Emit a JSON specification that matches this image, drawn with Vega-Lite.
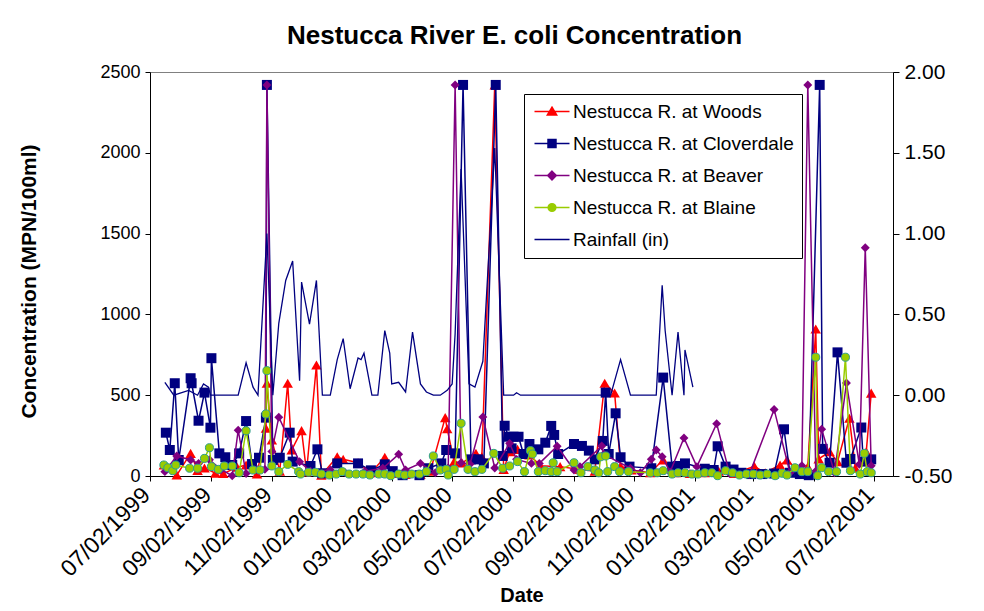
{
  "$schema": "https://vega.github.io/schema/vega-lite/v6.json",
  "width": 743,
  "height": 404,
  "autosize": {"type": "none"},
  "padding": {"left": 150, "top": 72, "right": 91, "bottom": 135},
  "background": "white",
  "config": {
    "font": "Liberation Sans",
    "view": {"stroke": "#808080", "strokeWidth": 1},
    "axis": {"grid": false, "domainColor": "black", "tickColor": "black", "labelColor": "black", "titleColor": "black", "labelFont": "Liberation Sans", "titleFont": "Liberation Sans", "domainWidth": 1, "tickWidth": 1}
  },
  "title": {"text": "Nestucca River E. coli Concentration", "fontSize": 26, "fontWeight": "bold", "font": "Liberation Sans", "color": "black", "anchor": "middle", "frame": "group", "offset": 12, "dx": -7},
  "datasets": {
    "woods": [
      {"d":"1999-07-16","v":68},{"d":"1999-07-29","v":6},{"d":"1999-08-12","v":140},{"d":"1999-08-19","v":35},{"d":"1999-08-26","v":50},{"d":"1999-09-06","v":17},{"d":"1999-09-14","v":15},{"d":"1999-09-28","v":54},{"d":"1999-10-07","v":68},{"d":"1999-10-18","v":12},{"d":"1999-10-27","v":295},{"d":"1999-10-28","v":574},{"d":"1999-11-02","v":223},{"d":"1999-11-10","v":30},{"d":"1999-11-18","v":574},{"d":"1999-11-22","v":161},{"d":"1999-12-02","v":281},{"d":"1999-12-07","v":25},{"d":"1999-12-17","v":687},{"d":"1999-12-22","v":5},
      {"d":"2000-01-07","v":119},{"d":"2000-01-13","v":103},{"d":"2000-01-28","v":82},{"d":"2000-02-10","v":20},{"d":"2000-02-24","v":116},{"d":"2000-03-03","v":15},{"d":"2000-03-16","v":10},{"d":"2000-03-31","v":10},{"d":"2000-04-10","v":30},{"d":"2000-04-25","v":361},{"d":"2000-04-27","v":292},{"d":"2000-05-04","v":89},{"d":"2000-05-12","v":80},{"d":"2000-05-26","v":140},{"d":"2000-06-01","v":119},{"d":"2000-06-14","v":2420},{"d":"2000-06-23","v":40},{"d":"2000-06-29","v":150},{"d":"2000-07-07","v":165},{"d":"2000-07-19","v":130},{"d":"2000-07-30","v":64},{"d":"2000-08-19","v":58},{"d":"2000-09-08","v":40},{"d":"2000-09-23","v":30},{"d":"2000-10-03","v":574},{"d":"2000-10-13","v":514},{"d":"2000-10-19","v":60},{"d":"2000-10-30","v":37},{"d":"2000-11-18","v":20},{"d":"2000-12-01","v":100},{"d":"2000-12-14","v":20},{"d":"2000-12-28","v":15},
      {"d":"2001-01-12","v":20},{"d":"2001-01-26","v":30},{"d":"2001-02-11","v":15},{"d":"2001-03-03","v":60},{"d":"2001-03-14","v":20},{"d":"2001-03-29","v":68},{"d":"2001-04-05","v":99},{"d":"2001-04-18","v":20},{"d":"2001-04-26","v":58},{"d":"2001-05-04","v":910},{"d":"2001-05-07","v":106},{"d":"2001-05-18","v":150},{"d":"2001-05-26","v":89},{"d":"2001-06-07","v":357},{"d":"2001-06-13","v":50},{"d":"2001-06-24","v":150},{"d":"2001-06-29","v":513}
    ],
    "clover": [
      {"d":"1999-07-18","v":268},{"d":"1999-07-22","v":161},{"d":"1999-07-27","v":574},{"d":"1999-07-31","v":99},{"d":"1999-08-12","v":605},{"d":"1999-08-13","v":574},{"d":"1999-08-20","v":342},{"d":"1999-08-26","v":516},{"d":"1999-09-01","v":299},{"d":"1999-09-02","v":729},{"d":"1999-09-10","v":140},{"d":"1999-09-16","v":116},{"d":"1999-09-23","v":68},{"d":"1999-09-30","v":140},{"d":"1999-10-07","v":340},{"d":"1999-10-13","v":74},{"d":"1999-10-20","v":113},{"d":"1999-10-27","v":361},{"d":"1999-10-28","v":2420},{"d":"1999-11-03","v":99},{"d":"1999-11-10","v":113},{"d":"1999-11-20","v":268},{"d":"1999-11-23","v":89},{"d":"1999-12-11","v":62},{"d":"1999-12-18","v":165},{"d":"1999-12-23","v":17},
      {"d":"2000-01-07","v":78},{"d":"2000-01-28","v":78},{"d":"2000-02-10","v":35},{"d":"2000-02-24","v":72},{"d":"2000-03-03","v":30},{"d":"2000-03-13","v":5},{"d":"2000-03-30","v":5},{"d":"2000-04-08","v":48},{"d":"2000-04-21","v":78},{"d":"2000-04-26","v":161},{"d":"2000-05-05","v":140},{"d":"2000-05-13","v":2420},{"d":"2000-05-21","v":103},{"d":"2000-05-28","v":103},{"d":"2000-06-03","v":78},{"d":"2000-06-15","v":2420},{"d":"2000-06-22","v":124},{"d":"2000-06-24","v":311},{"d":"2000-06-28","v":243},{"d":"2000-07-01","v":171},{"d":"2000-07-03","v":243},{"d":"2000-07-08","v":243},{"d":"2000-07-13","v":136},{"d":"2000-07-19","v":198},{"d":"2000-07-28","v":165},{"d":"2000-08-04","v":206},{"d":"2000-08-10","v":310},{"d":"2000-08-13","v":254},{"d":"2000-08-17","v":136},{"d":"2000-09-02","v":198},{"d":"2000-09-10","v":186},{"d":"2000-09-17","v":157},{"d":"2000-09-23","v":103},{"d":"2000-10-01","v":217},{"d":"2000-10-04","v":516},{"d":"2000-10-07","v":136},{"d":"2000-10-14","v":388},{"d":"2000-10-19","v":116},{"d":"2000-10-28","v":58},{"d":"2000-11-19","v":48},{"d":"2000-12-01","v":609},{"d":"2000-12-10","v":58},{"d":"2000-12-16","v":62},{"d":"2000-12-23","v":78},
      {"d":"2001-01-12","v":45},{"d":"2001-01-21","v":37},{"d":"2001-01-25","v":184},{"d":"2001-02-02","v":58},{"d":"2001-02-10","v":40},{"d":"2001-02-18","v":20},{"d":"2001-02-28","v":12},{"d":"2001-03-11","v":12},{"d":"2001-03-23","v":15},{"d":"2001-04-02","v":289},{"d":"2001-04-08","v":20},{"d":"2001-04-18","v":12},{"d":"2001-04-27","v":5},{"d":"2001-05-08","v":2420},{"d":"2001-05-11","v":168},{"d":"2001-05-18","v":82},{"d":"2001-05-26","v":765},{"d":"2001-06-04","v":82},{"d":"2001-06-08","v":105},{"d":"2001-06-19","v":300},{"d":"2001-06-21","v":89},{"d":"2001-06-29","v":103}
    ],
    "beaver": [
      {"d":"1999-07-17","v":27},{"d":"1999-07-29","v":124},{"d":"1999-08-12","v":99},{"d":"1999-08-20","v":78},{"d":"1999-08-31","v":100},{"d":"1999-09-12","v":40},{"d":"1999-09-23","v":2},{"d":"1999-09-29","v":283},{"d":"1999-10-07","v":15},{"d":"1999-10-18","v":40},{"d":"1999-10-26","v":41},{"d":"1999-10-28","v":2420},{"d":"1999-11-02","v":152},{"d":"1999-11-09","v":364},{"d":"1999-11-30","v":88},{"d":"1999-12-11","v":30},{"d":"1999-12-31","v":37},
      {"d":"2000-01-15","v":20},{"d":"2000-02-04","v":30},{"d":"2000-02-22","v":48},{"d":"2000-03-09","v":134},{"d":"2000-03-16","v":37},{"d":"2000-03-31","v":78},{"d":"2000-04-15","v":20},{"d":"2000-04-28","v":50},{"d":"2000-05-05","v":2420},{"d":"2000-05-11","v":82},{"d":"2000-05-20","v":73},{"d":"2000-06-02","v":365},{"d":"2000-06-14","v":50},{"d":"2000-06-29","v":202},{"d":"2000-07-06","v":103},{"d":"2000-07-21","v":78},{"d":"2000-07-29","v":78},{"d":"2000-08-16","v":184},{"d":"2000-09-02","v":37},{"d":"2000-09-08","v":58},{"d":"2000-09-30","v":186},{"d":"2000-10-02","v":134},{"d":"2000-10-29","v":48},{"d":"2000-11-08","v":20},{"d":"2000-11-19","v":104},{"d":"2000-11-24","v":161},{"d":"2000-11-30","v":119},{"d":"2000-12-08","v":25},{"d":"2000-12-22","v":235},
      {"d":"2001-01-04","v":58},{"d":"2001-01-24","v":324},{"d":"2001-02-06","v":15},{"d":"2001-02-26","v":10},{"d":"2001-03-23","v":412},{"d":"2001-04-08","v":20},{"d":"2001-04-20","v":64},{"d":"2001-04-26","v":2420},{"d":"2001-05-04","v":30},{"d":"2001-05-10","v":290},{"d":"2001-05-23","v":20},{"d":"2001-06-04","v":575},{"d":"2001-06-17","v":72},{"d":"2001-06-23","v":1413},{"d":"2001-06-29","v":64}
    ],
    "blaine": [
      {"d":"1999-07-16","v":68},{"d":"1999-07-20","v":51},{"d":"1999-07-25","v":33},{"d":"1999-07-28","v":68},{"d":"1999-08-11","v":48},{"d":"1999-08-19","v":48},{"d":"1999-08-26","v":109},{"d":"1999-08-31","v":175},{"d":"1999-09-02","v":58},{"d":"1999-09-09","v":41},{"d":"1999-09-15","v":62},{"d":"1999-09-23","v":62},{"d":"1999-09-30","v":20},{"d":"1999-10-07","v":280},{"d":"1999-10-14","v":37},{"d":"1999-10-21","v":37},{"d":"1999-10-27","v":384},{"d":"1999-10-28","v":652},{"d":"1999-11-02","v":62},{"d":"1999-11-09","v":27},{"d":"1999-11-18","v":72},{"d":"1999-11-29","v":27},{"d":"1999-12-01","v":12},{"d":"1999-12-09","v":23},{"d":"1999-12-16","v":23},{"d":"1999-12-22","v":12},{"d":"1999-12-30","v":6},
      {"d":"2000-01-06","v":12},{"d":"2000-01-12","v":27},{"d":"2000-01-19","v":12},{"d":"2000-01-26","v":12},{"d":"2000-02-02","v":12},{"d":"2000-02-09","v":6},{"d":"2000-02-18","v":12},{"d":"2000-02-24","v":12},{"d":"2000-03-01","v":2},{"d":"2000-03-09","v":12},{"d":"2000-03-15","v":6},{"d":"2000-03-22","v":12},{"d":"2000-03-30","v":12},{"d":"2000-04-06","v":27},{"d":"2000-04-13","v":124},{"d":"2000-04-20","v":37},{"d":"2000-04-26","v":41},{"d":"2000-04-28","v":6},{"d":"2000-05-04","v":41},{"d":"2000-05-11","v":326},{"d":"2000-05-18","v":41},{"d":"2000-05-25","v":27},{"d":"2000-06-01","v":41},{"d":"2000-06-13","v":140},{"d":"2000-06-22","v":48},{"d":"2000-06-29","v":62},{"d":"2000-07-07","v":89},{"d":"2000-07-14","v":27},{"d":"2000-07-20","v":157},{"d":"2000-07-22","v":136},{"d":"2000-07-28","v":27},{"d":"2000-08-04","v":33},{"d":"2000-08-10","v":27},{"d":"2000-08-12","v":82},{"d":"2000-08-16","v":27},{"d":"2000-09-02","v":82},{"d":"2000-09-09","v":20},{"d":"2000-09-16","v":58},{"d":"2000-09-23","v":37},{"d":"2000-09-27","v":20},{"d":"2000-09-29","v":119},{"d":"2000-10-04","v":124},{"d":"2000-10-06","v":27},{"d":"2000-10-13","v":58},{"d":"2000-10-18","v":27},{"d":"2000-10-27","v":27},{"d":"2000-11-18","v":20},{"d":"2000-11-25","v":20},{"d":"2000-12-01","v":33},{"d":"2000-12-10","v":12},{"d":"2000-12-16","v":20},{"d":"2000-12-23","v":20},{"d":"2000-12-30","v":12},
      {"d":"2001-01-05","v":12},{"d":"2001-01-12","v":20},{"d":"2001-01-19","v":20},{"d":"2001-01-25","v":2},{"d":"2001-02-02","v":33},{"d":"2001-02-09","v":20},{"d":"2001-02-16","v":6},{"d":"2001-02-23","v":12},{"d":"2001-03-02","v":12},{"d":"2001-03-09","v":6},{"d":"2001-03-16","v":12},{"d":"2001-03-24","v":2},{"d":"2001-03-31","v":17},{"d":"2001-04-05","v":6},{"d":"2001-04-13","v":51},{"d":"2001-04-20","v":27},{"d":"2001-04-26","v":27},{"d":"2001-05-04","v":735},{"d":"2001-05-06","v":2},{"d":"2001-05-10","v":51},{"d":"2001-05-17","v":27},{"d":"2001-05-25","v":27},{"d":"2001-06-03","v":735},{"d":"2001-06-08","v":33},{"d":"2001-06-18","v":12},{"d":"2001-06-22","v":140},{"d":"2001-06-25","v":27},{"d":"2001-06-29","v":20}
    ],
    "rain": [
      {"d":"1999-07-17","v":0.08},{"d":"1999-07-26","v":0.0},{"d":"1999-08-10","v":0.03},{"d":"1999-08-19","v":0.0},{"d":"1999-08-25","v":0.07},{"d":"1999-08-30","v":0.05},{"d":"1999-09-01","v":0.0},{"d":"1999-09-29","v":0.0},{"d":"1999-10-07","v":0.2},{"d":"1999-10-14","v":0.05},{"d":"1999-10-19","v":0.0},{"d":"1999-10-28","v":1.0},{"d":"1999-11-03","v":0.0},{"d":"1999-11-09","v":0.445},{"d":"1999-11-16","v":0.71},{"d":"1999-11-23","v":0.83},{"d":"1999-11-30","v":0.09},{"d":"1999-12-02","v":0.7},{"d":"1999-12-10","v":0.44},{"d":"1999-12-17","v":0.71},{"d":"1999-12-23","v":0.0},{"d":"1999-12-31","v":0.0},
      {"d":"2000-01-07","v":0.22},{"d":"2000-01-13","v":0.35},{"d":"2000-01-20","v":0.04},{"d":"2000-01-28","v":0.23},{"d":"2000-01-31","v":0.22},{"d":"2000-02-03","v":0.26},{"d":"2000-02-11","v":0.0},{"d":"2000-02-17","v":0.0},{"d":"2000-02-24","v":0.4},{"d":"2000-02-29","v":0.26},{"d":"2000-03-02","v":0.07},{"d":"2000-03-09","v":0.08},{"d":"2000-03-16","v":0.02},{"d":"2000-03-23","v":0.39},{"d":"2000-03-31","v":0.07},{"d":"2000-04-06","v":0.02},{"d":"2000-04-13","v":0.0},{"d":"2000-04-20","v":0.0},{"d":"2000-04-27","v":0.03},{"d":"2000-05-02","v":0.07},{"d":"2000-05-05","v":0.38},{"d":"2000-05-11","v":1.4},{"d":"2000-05-19","v":0.07},{"d":"2000-05-25","v":0.05},{"d":"2000-06-02","v":0.21},{"d":"2000-06-14","v":1.53},{"d":"2000-06-23","v":0.0},{"d":"2000-07-03","v":0.0},{"d":"2000-07-06","v":0.015},{"d":"2000-07-10","v":0.0},{"d":"2000-08-15","v":0.0},{"d":"2000-10-09","v":0.0},{"d":"2000-10-19","v":0.22},{"d":"2000-10-29","v":0.0},{"d":"2000-11-24","v":0.0},{"d":"2000-11-30","v":0.68},{"d":"2000-12-03","v":0.4},{"d":"2000-12-10","v":0.0},{"d":"2000-12-16","v":0.39},{"d":"2000-12-22","v":0.0},{"d":"2000-12-23","v":0.28},{"d":"2000-12-31","v":0.05}
    ],
    "legendrows": [
      {"s":"Nestucca R. at Woods"},{"s":"Nestucca R. at Cloverdale"},{"s":"Nestucca R. at Beaver"},{"s":"Nestucca R. at Blaine"},{"s":"Rainfall (in)"}
    ]
  },
  "encoding": {
    "x": {
      "field": "d", "type": "temporal",
      "scale": {"type": "utc", "domain": [{"year": 1999, "month": 7, "date": 2, "utc": true}, {"year": 2001, "month": 7, "date": 21, "utc": true}]},
      "axis": {
        "values": [
          {"year": 1999, "month": 7, "date": 2, "utc": true},{"year": 1999, "month": 9, "date": 2, "utc": true},{"year": 1999, "month": 11, "date": 2, "utc": true},
          {"year": 2000, "month": 1, "date": 2, "utc": true},{"year": 2000, "month": 3, "date": 2, "utc": true},{"year": 2000, "month": 5, "date": 2, "utc": true},
          {"year": 2000, "month": 7, "date": 2, "utc": true},{"year": 2000, "month": 9, "date": 2, "utc": true},{"year": 2000, "month": 11, "date": 2, "utc": true},
          {"year": 2001, "month": 1, "date": 2, "utc": true},{"year": 2001, "month": 3, "date": 2, "utc": true},{"year": 2001, "month": 5, "date": 2, "utc": true},
          {"year": 2001, "month": 7, "date": 2, "utc": true}
        ],
        "labelExpr": "utcFormat(datum.value, '%m/%d/%Y')",
        "labelAngle": -45, "labelAlign": "right", "labelBaseline": "middle",
        "labelFontSize": 23, "labelOverlap": false, "labelFlush": false, "labelBound": false,
        "tickSize": 5, "labelPadding": 10, "labelOffset": -4,
        "title": "Date", "titleFontSize": 20, "titleFontWeight": "bold", "titlePadding": 5
      }
    }
  },
  "layer": [
    {
      "encoding": {
        "y": {
          "field": "v", "type": "quantitative",
          "scale": {"domain": [0, 2500], "nice": false},
          "axis": {"values": [0, 500, 1000, 1500, 2000, 2500], "format": "d", "labelFontSize": 18, "tickSize": 5, "labelPadding": 5,
            "title": "Concentration (MPN/100ml)", "titleFontSize": 21, "titleFontWeight": "bold", "titlePadding": 60, "titleY": 209}
        }
      },
      "layer": [
        {"data": {"name": "woods"}, "mark": {"type": "line", "color": "#FF0000", "strokeWidth": 1.5}},
        {"data": {"name": "woods"}, "mark": {"type": "point", "shape": "triangle-up", "filled": true, "color": "#FF0000", "size": 110, "opacity": 1}},
        {"data": {"name": "clover"}, "mark": {"type": "line", "color": "#000080", "strokeWidth": 1.5}},
        {"data": {"name": "clover"}, "mark": {"type": "point", "shape": "square", "filled": true, "color": "#000080", "size": 100, "opacity": 1}},
        {"data": {"name": "beaver"}, "mark": {"type": "line", "color": "#800080", "strokeWidth": 1.5}},
        {"data": {"name": "beaver"}, "mark": {"type": "point", "shape": "diamond", "filled": true, "color": "#800080", "size": 80, "opacity": 1}},
        {"data": {"name": "blaine"}, "mark": {"type": "line", "color": "#99CC00", "strokeWidth": 1.5}},
        {"data": {"name": "blaine"}, "mark": {"type": "point", "shape": "circle", "fill": "#99CC00", "stroke": "#2E9E8E", "strokeWidth": 1, "size": 65, "opacity": 1}},
        {
          "data": {"name": "legendrows"},
          "mark": {"type": "point", "opacity": 0},
          "encoding": {
            "shape": {"field": "s", "type": "nominal",
              "scale": {"domain": ["Nestucca R. at Woods", "Nestucca R. at Cloverdale", "Nestucca R. at Beaver", "Nestucca R. at Blaine", "Rainfall (in)"],
                "range": ["M-1,0H4M1.5,-0.62L2.17,0.5L0.83,0.5Z", "M-1,0H4M0.93,-0.57H2.07V0.57H0.93Z", "M-1,0H4M1.5,-0.62L2.12,0L1.5,0.62L0.88,0Z", "M-1,0H4M0.95,0A0.55,0.55,0,1,0,2.05,0A0.55,0.55,0,1,0,0.95,0Z", "M-1,0H4"]},
              "legend": {"title": null, "orient": "none", "legendX": 374, "legendY": 22, "symbolSize": 196, "symbolStrokeWidth": 1.5, "symbolOpacity": 1, "labelFontSize": 19, "labelFont": "Liberation Sans", "labelColor": "black", "labelOffset": 22, "labelLimit": 400, "rowPadding": 12, "padding": 8, "strokeColor": "black", "fillColor": "white"}},
            "fill": {"field": "s", "type": "nominal",
              "scale": {"domain": ["Nestucca R. at Woods", "Nestucca R. at Cloverdale", "Nestucca R. at Beaver", "Nestucca R. at Blaine", "Rainfall (in)"],
                "range": ["#FF0000", "#000080", "#800080", "#99CC00", "#000080"]},
              "legend": {"title": null, "orient": "none", "legendX": 374, "legendY": 22, "symbolSize": 196, "symbolStrokeWidth": 1.5, "symbolOpacity": 1, "labelFontSize": 19, "labelFont": "Liberation Sans", "labelColor": "black", "labelOffset": 22, "labelLimit": 400, "rowPadding": 12, "padding": 8, "strokeColor": "black", "fillColor": "white"}},
            "stroke": {"field": "s", "type": "nominal",
              "scale": {"domain": ["Nestucca R. at Woods", "Nestucca R. at Cloverdale", "Nestucca R. at Beaver", "Nestucca R. at Blaine", "Rainfall (in)"],
                "range": ["#FF0000", "#000080", "#800080", "#99CC00", "#000080"]},
              "legend": {"title": null, "orient": "none", "legendX": 374, "legendY": 22, "symbolSize": 196, "symbolStrokeWidth": 1.5, "symbolOpacity": 1, "labelFontSize": 19, "labelFont": "Liberation Sans", "labelColor": "black", "labelOffset": 22, "labelLimit": 400, "rowPadding": 12, "padding": 8, "strokeColor": "black", "fillColor": "white"}}
          }
        }
      ]
    },
    {
      "data": {"name": "rain"},
      "mark": {"type": "line", "color": "#000080", "strokeWidth": 1.3},
      "encoding": {
        "y": {
          "field": "v", "type": "quantitative",
          "scale": {"domain": [-0.5, 2.0], "nice": false, "zero": false},
          "axis": {"orient": "right", "values": [-0.5, 0, 0.5, 1, 1.5, 2], "labelExpr": "replace(format(datum.value, '.2f'), '\u2212', '-')", "labelFontSize": 21, "tickSize": 6, "labelPadding": 5, "title": null}
        }
      }
    }
  ],
  "resolve": {"scale": {"y": "independent"}}
}
